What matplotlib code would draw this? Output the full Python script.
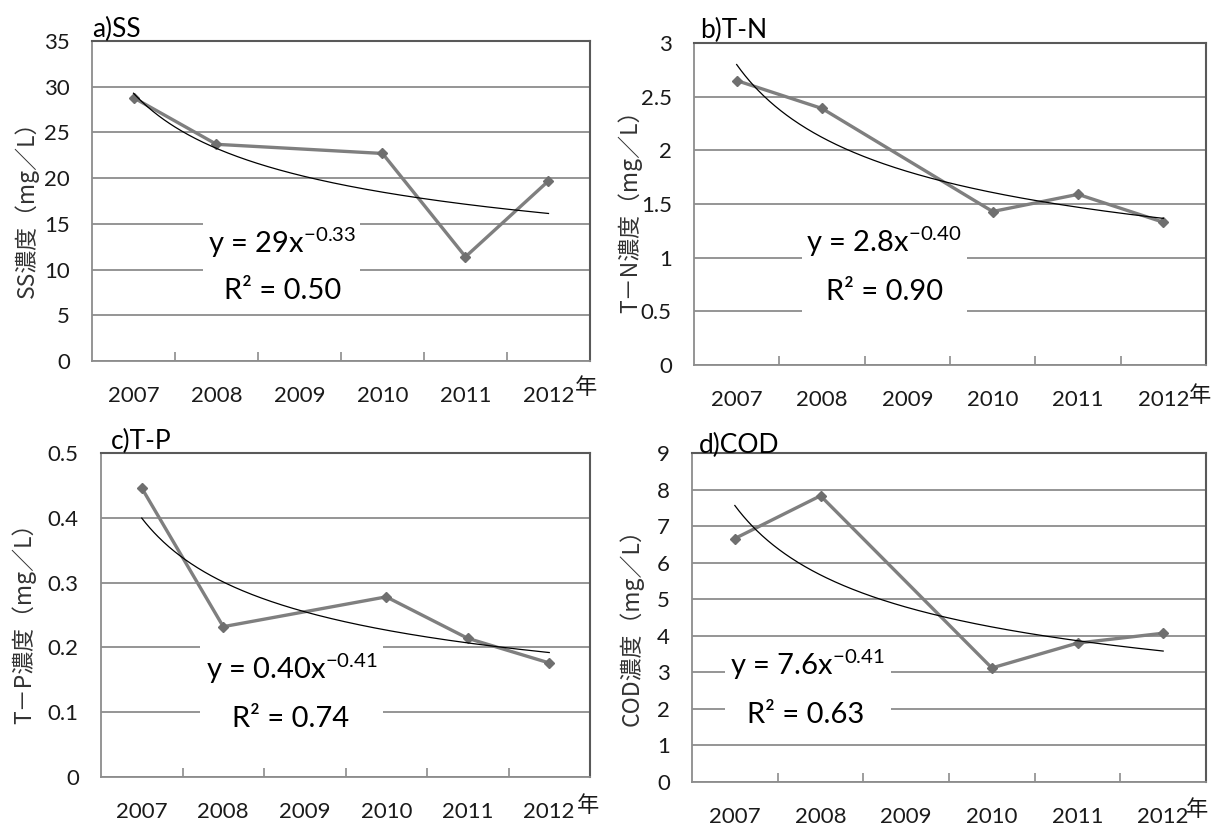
import numpy as np
import matplotlib
matplotlib.use('Agg')
import matplotlib.pyplot as plt
from matplotlib.patches import Rectangle
from matplotlib.ticker import FixedLocator, FuncFormatter

plt.rcParams['font.family'] = ['Lato', 'Noto Sans CJK JP', 'DejaVu Sans']
plt.rcParams['mathtext.fontset'] = 'custom'
plt.rcParams['mathtext.rm'] = 'Lato'
plt.rcParams['mathtext.it'] = 'Lato:italic'
plt.rcParams['mathtext.bf'] = 'Lato:bold'
plt.rcParams['axes.unicode_minus'] = False

# ---------------- data ----------------
years = ['2007', '2008', '2009', '2010', '2011', '2012']
ss = [28.8, 23.7, np.nan, 22.7, 11.4, 19.7]
tn = [2.65, 2.39, np.nan, 1.43, 1.59, 1.33]
tp = [0.446, 0.232, np.nan, 0.278, 0.214, 0.176]
cod = [6.66, 7.83, np.nan, 3.12, 3.80, 4.07]

titles = ['a)SS', 'b)T-N', 'c)T-P', 'd)COD']
ylabels = ['SS濃度（mg／L）', 'T－N濃度（mg／L）', 'T－P濃度（mg／L）', 'COD濃度（mg／L）']
ymaxs = [35, 3, 0.5, 9]
nticks = [7, 6, 5, 9]
eq_texts = ['y = 29x$\\mathregular{^{-0.33}}$', 'y = 2.8x$\\mathregular{^{-0.40}}$',
            'y = 0.40x$\\mathregular{^{-0.41}}$', 'y = 7.6x$\\mathregular{^{-0.41}}$']
r2_texts = ['R² = 0.50', 'R² = 0.90', 'R² = 0.74', 'R² = 0.63']
year_suffix = '年'

series = [ss, tn, tp, cod]

# ---------------- layout (pixels) ----------------
W, H = 1212, 825
axes_px = [(92, 41, 590, 361), (694, 43, 1206, 365), (101, 453, 590, 777), (692, 453, 1206, 782)]
box_px = [(203, 215, 360, 308), (802, 225, 967, 320), (200, 640, 383, 735), (725, 642, 891, 735)]
eq_pos = [(282, 253), (884, 252), (292, 679), (807, 675)]
r2_pos = [(283, 299), (885, 300), (291, 727), (806, 723)]
title_pos = [(92, 37), (700, 38), (111, 449), (699, 453)]
ylab_pos = [(27, 204), (630, 206), (24, 618), (631, 622)]
nen_pos = [(586, 388), (1200, 395), (588, 806), (1197, 809)]

fig = plt.figure(figsize=(W / 100, H / 100), dpi=100)

GRID = '#8c8c8c'
LINE = '#7f7f7f'

for i in range(4):
    l, t, r, b = axes_px[i]
    ax = fig.add_axes([l / W, 1 - b / H, (r - l) / W, (b - t) / H])

    def to_ax(x, y, l=l, t=t, r=r, b=b):
        return (x - l) / (r - l), (b - y) / (b - t)

    y = np.array(series[i], dtype=float)
    xi = np.arange(len(years))
    m = ~np.isnan(y)

    # power trendline (Excel style, x = category index 1..n)
    xf = xi[m] + 1
    slope, inter = np.polyfit(np.log(xf), np.log(y[m]), 1)
    xs = np.linspace(1, len(years), 300)
    ax.plot(xs - 1, np.exp(inter) * xs ** slope, color='black', lw=0.9, zorder=5)

    ax.plot(xi[m], y[m], color=LINE, lw=2.4, marker='D', ms=5.5,
            mfc='#6f6f6f', mec='#6f6f6f', zorder=4)

    ax.set_xlim(-0.5, len(years) - 0.5)
    ax.set_ylim(0, ymaxs[i])
    ax.yaxis.set_major_locator(FixedLocator(np.linspace(0, ymaxs[i], nticks[i] + 1)))
    ax.yaxis.set_major_formatter(FuncFormatter(lambda v, p: f'{round(v, 3):g}'))
    ax.set_xticks(xi)
    ax.set_xticklabels(years)
    ax.xaxis.set_minor_locator(FixedLocator(np.arange(0.5, len(years) - 0.5, 1)))

    ax.set_axisbelow(True)
    ax.yaxis.grid(True, color=GRID, lw=1.3)
    ax.tick_params(axis='x', which='major', length=0, pad=18, labelsize=16, labelcolor='#1a1a1a')
    ax.tick_params(axis='x', which='minor', direction='in', length=6.5, width=1.2, color=GRID)
    ax.tick_params(axis='y', length=0, pad=16, labelsize=16, labelcolor='#1a1a1a')

    for s in ['left', 'bottom']:
        ax.spines[s].set_color(GRID)
        ax.spines[s].set_linewidth(1.3)
    for s in ['top', 'right']:
        ax.spines[s].set_color('#595959')
        ax.spines[s].set_linewidth(1.5)

    # equation box
    bx0, by0, bx1, by1 = box_px[i]
    ax0, ay0 = to_ax(bx0, by1)
    ax1, ay1 = to_ax(bx1, by0)
    ax.add_patch(Rectangle((ax0, ay0), ax1 - ax0, ay1 - ay0, transform=ax.transAxes,
                           facecolor='white', edgecolor='none', zorder=2, clip_on=False))
    ex, ey = to_ax(*eq_pos[i])
    ax.text(ex, ey, eq_texts[i], transform=ax.transAxes, ha='center', va='baseline',
            fontsize=21, color='black', zorder=6)
    rx, ry = to_ax(*r2_pos[i])
    ax.text(rx, ry, r2_texts[i], transform=ax.transAxes, ha='center', va='baseline',
            fontsize=21, color='black', zorder=6)

    # title
    tx, ty = to_ax(*title_pos[i])
    ax.text(tx, ty, titles[i], transform=ax.transAxes, ha='left', va='baseline',
            fontsize=19, color='black', clip_on=False, zorder=6)

    # y label
    lx, ly = ylab_pos[i]
    fig.text(lx / W, 1 - ly / H, ylabels[i], rotation=90, ha='center', va='center',
             fontsize=16.5, color='#333333', family=['Noto Sans CJK JP', 'DejaVu Sans'])

    # year suffix
    nx, ny = nen_pos[i]
    fig.text(nx / W, 1 - ny / H, year_suffix, ha='center', va='center', fontsize=16,
             color='#1a1a1a', family=['Noto Sans CJK JP', 'DejaVu Sans'])

fig.savefig('out.png', dpi=100, facecolor='white')
